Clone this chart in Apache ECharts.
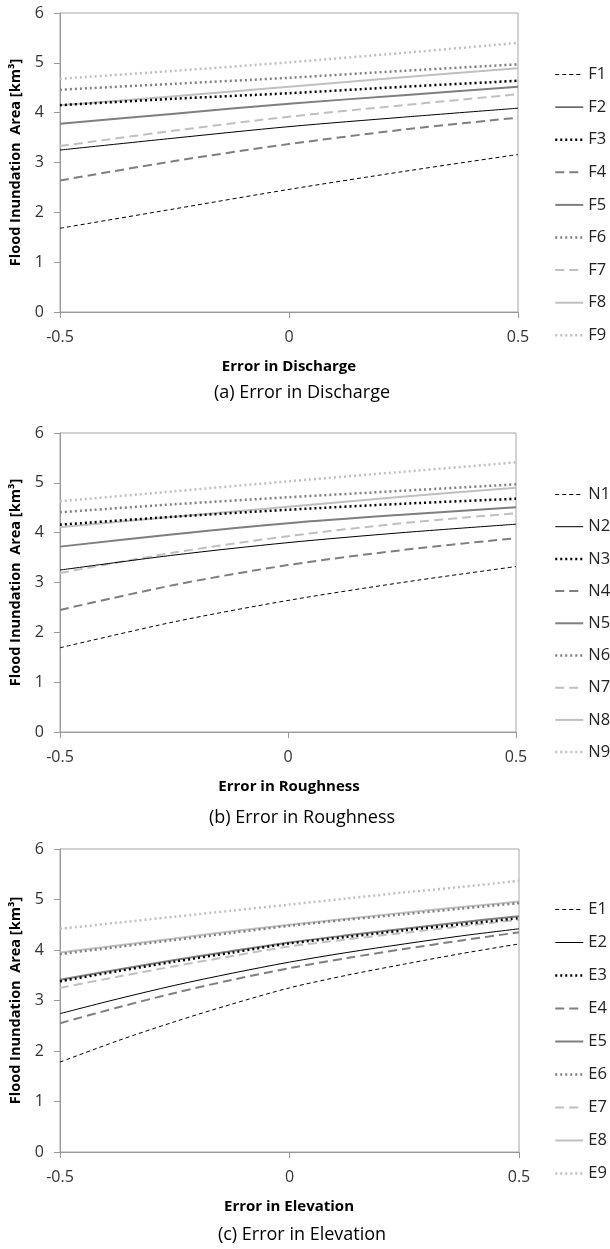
<!DOCTYPE html>
<html>
<head>
<meta charset="utf-8">
<script src="https://cdn.jsdelivr.net/npm/echarts@6/dist/echarts.min.js"></script>
<style>
  html, body { margin: 0; padding: 0; background: #fff; }
  #chart { width: 610px; height: 1249px; }
</style>
</head>
<body>
<div id="chart"></div>
<script>
// x positions (error fraction)
var xsAB = [-0.5, -0.25, 0, 0.25, 0.5];
var xsC = [-0.5, -0.375, -0.25, -0.125, 0, 0.125, 0.25, 0.375, 0.5];

var namesA = ['F1', 'F2', 'F3', 'F4', 'F5', 'F6', 'F7', 'F8', 'F9'];
var namesB = ['N1', 'N2', 'N3', 'N4', 'N5', 'N6', 'N7', 'N8', 'N9'];
var namesC = ['E1', 'E2', 'E3', 'E4', 'E5', 'E6', 'E7', 'E8', 'E9'];

// (a) Error in Discharge
var valsA = [
  [1.68, 2.07, 2.46, 2.82, 3.16],
  [3.25, 3.49, 3.72, 3.91, 4.09],
  [4.15, 4.28, 4.39, 4.52, 4.64],
  [2.64, 3.03, 3.37, 3.66, 3.90],
  [3.78, 3.98, 4.18, 4.35, 4.52],
  [4.46, 4.58, 4.70, 4.84, 4.97],
  [3.33, 3.64, 3.92, 4.15, 4.37],
  [4.15, 4.33, 4.52, 4.71, 4.89],
  [4.68, 4.84, 5.01, 5.20, 5.40]
];

// (b) Error in Roughness
var valsB = [
  [1.69, 2.21, 2.64, 3.00, 3.32],
  [3.25, 3.55, 3.80, 4.00, 4.17],
  [4.16, 4.32, 4.46, 4.58, 4.68],
  [2.45, 2.95, 3.35, 3.65, 3.89],
  [3.72, 3.97, 4.19, 4.36, 4.51],
  [4.41, 4.57, 4.71, 4.84, 4.97],
  [3.19, 3.60, 3.93, 4.19, 4.39],
  [4.11, 4.32, 4.52, 4.72, 4.90],
  [4.63, 4.83, 5.03, 5.22, 5.41]
];

// (c) Error in Elevation
var valsC = [
  [1.78, 2.20, 2.58, 2.93, 3.25, 3.50, 3.72, 3.93, 4.12],
  [2.74, 3.03, 3.30, 3.54, 3.76, 3.95, 4.12, 4.28, 4.42],
  [3.38, 3.58, 3.77, 3.95, 4.13, 4.26, 4.39, 4.51, 4.63],
  [2.55, 2.86, 3.15, 3.41, 3.64, 3.84, 4.02, 4.19, 4.35],
  [3.41, 3.61, 3.80, 3.98, 4.15, 4.29, 4.42, 4.55, 4.67],
  [3.92, 4.06, 4.20, 4.34, 4.48, 4.60, 4.71, 4.82, 4.93],
  [3.25, 3.47, 3.68, 3.88, 4.07, 4.21, 4.34, 4.47, 4.60],
  [3.95, 4.09, 4.23, 4.37, 4.50, 4.62, 4.74, 4.85, 4.96],
  [4.42, 4.54, 4.66, 4.78, 4.90, 5.02, 5.14, 5.25, 5.37]
];

var xTitles = ['Error in Discharge', 'Error in Roughness', 'Error in Elevation'];
var captions = ['(a) Error in Discharge', '(b) Error in Roughness', '(c) Error in Elevation'];

var FONT = '"Open Sans", "Noto Sans", sans-serif';

// same 9 line looks in every panel
var lineLooks = [
  { color: '#000000', width: 1, type: [4, 3] },
  { color: '#000000', width: 1, type: 'solid' },
  { color: '#000000', width: 2.5, type: [2, 3] },
  { color: '#7f7f7f', width: 2, type: [9, 5] },
  { color: '#7f7f7f', width: 2, type: 'solid' },
  { color: '#7f7f7f', width: 2.5, type: [2, 3] },
  { color: '#c0c0c0', width: 2, type: [9, 5] },
  { color: '#c0c0c0', width: 2, type: 'solid' },
  { color: '#c0c0c0', width: 2.5, type: [2, 3] }
];

// panel boxes (px)
var panels = [
  { top: 13, bottom: 312, right: 518, legTop: 61, legGap: 15.6 },
  { top: 433, bottom: 732, right: 516, legTop: 481, legGap: 15.2 },
  { top: 849, bottom: 1152, right: 519, legTop: 896, legGap: 16 }
];

var chart = echarts.init(document.getElementById('chart'));

var grids = [], xAxes = [], yAxes = [], legends = [], series = [], graphics = [];
var allNames = [namesA, namesB, namesC];
var allVals = [valsA, valsB, valsC];
var allXs = [xsAB, xsAB, xsC];

panels.forEach(function (p, k) {
  grids.push({
    left: 59,
    top: p.top,
    width: p.right - 59,
    height: p.bottom - p.top,
    show: true,
    borderColor: '#a6a6a6',
    borderWidth: 1,
    backgroundColor: 'transparent'
  });
  xAxes.push({
    type: 'value',
    gridIndex: k,
    min: -0.5,
    max: 0.5,
    interval: 0.5,
    axisLine: { show: true, onZero: false, lineStyle: { color: '#9a9a9a' } },
    axisTick: { show: true, length: 6, lineStyle: { color: '#9a9a9a' } },
    axisLabel: { color: '#333', fontSize: 16, fontFamily: FONT, margin: 17 },
    splitLine: { show: false }
  });
  yAxes.push({
    type: 'value',
    gridIndex: k,
    min: 0,
    max: 6,
    interval: 1,
    name: 'Flood Inundation  Area [km³]',
    nameLocation: 'middle',
    nameGap: 37,
    nameTextStyle: { color: '#000', fontSize: 14.5, fontWeight: 'bold', fontFamily: FONT },
    axisLine: { show: true, onZero: false, lineStyle: { color: '#9a9a9a' } },
    axisTick: { show: true, length: 6, lineStyle: { color: '#9a9a9a' } },
    axisLabel: { color: '#333', fontSize: 16, fontFamily: FONT, margin: 16 },
    splitLine: { show: false }
  });
  legends.push({
    orient: 'vertical',
    left: 549,
    top: p.legTop,
    itemWidth: 28,
    itemHeight: 14,
    itemGap: p.legGap,
    data: allNames[k],
    selectedMode: false,
    itemStyle: { opacity: 0 },
    lineStyle: { width: 'inherit' },
    textStyle: { color: '#222', fontSize: 16.5, lineHeight: 16, fontFamily: FONT }
  });
  allNames[k].forEach(function (nm, i) {
    var look = lineLooks[i];
    series.push({
      name: nm,
      type: 'line',
      xAxisIndex: k,
      yAxisIndex: k,
      symbol: 'none',
      showSymbol: false,
      silent: true,
      smooth: 0.3,
      z: 10 - i,
      lineStyle: { color: look.color, width: look.width, type: look.type, cap: 'butt' },
      itemStyle: { color: look.color },
      data: allXs[k].map(function (x, j) { return [x, allVals[k][i][j]]; })
    });
  });
  graphics.push({
    type: 'text',
    x: 289,
    y: p.bottom + 55,
    style: {
      text: xTitles[k],
      font: 'bold 15px ' + FONT,
      fill: '#000',
      align: 'center',
      verticalAlign: 'middle'
    }
  });
  graphics.push({
    type: 'text',
    x: 302,
    y: p.bottom + (k === 0 ? 81 : (k === 1 ? 86 : 83)),
    style: {
      text: captions[k],
      font: '18px ' + FONT,
      fill: '#000',
      align: 'center',
      verticalAlign: 'middle'
    }
  });
});

chart.setOption({
  animation: false,
  grid: grids,
  xAxis: xAxes,
  yAxis: yAxes,
  legend: legends,
  series: series,
  graphic: graphics
});
</script>
</body>
</html>
